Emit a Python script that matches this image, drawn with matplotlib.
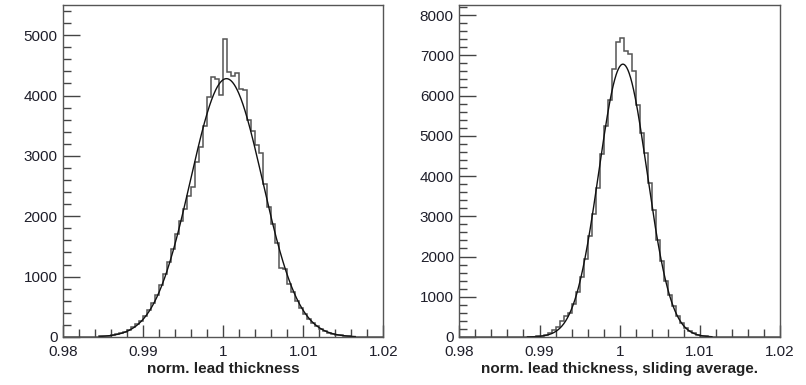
import numpy as np
import matplotlib
matplotlib.use("Agg")
import matplotlib.pyplot as plt
from matplotlib.ticker import MultipleLocator

# binning: 80 bins of 0.0005 from 0.98 to 1.02
bin_lo = 0.98
bin_width = 0.0005
n_bins = 80

counts_left = [
    0, 0, 0, 0, 0, 0, 0, 0, 5, 10,
    14, 20, 30, 45, 62, 85, 118, 160, 210, 270,
    350, 440, 560, 700, 860, 1040, 1240, 1450, 1700, 1920,
    2120, 2330, 2480, 2900, 3150, 3500, 3980, 4300, 4270, 4010,
    4940, 4390, 4330, 4370, 4110, 4090, 3590, 3420, 3180, 3040,
    2530, 2150, 1880, 1560, 1150, 1120, 880, 740, 600, 480,
    385, 300, 235, 175, 130, 95, 70, 50, 35, 25,
    17, 12, 8, 5, 3, 0, 0, 0, 0, 0,
]

counts_right = [
    0, 0, 0, 0, 0, 0, 0, 0, 0, 0,
    0, 0, 0, 0, 0, 0, 3, 5, 10, 18,
    30, 55, 110, 180, 260, 390, 520, 600, 820, 1120,
    1480, 1950, 2500, 3050, 3700, 4550, 5250, 5900, 6650, 7330,
    7420, 7100, 7040, 6600, 5760, 5070, 4560, 3820, 3150, 2420,
    1880, 1400, 1050, 760, 520, 350, 230, 150, 90, 55,
    30, 18, 10, 5, 2, 0, 0, 0, 0, 0,
    0, 0, 0, 0, 0, 0, 0, 0, 0, 0,
]

# gaussian fit parameters (amplitude, mean, sigma) and fit range
fit_left = (4280, 1.0004, 0.0045)
fit_left_range = (0.9845, 1.0165)
fit_right = (6780, 1.0004, 0.0030)
fit_right_range = (0.9885, 1.0115)

xticks = [0.98, 0.99, 1.0, 1.01, 1.02]
xtick_labels = ["0.98", "0.99", "1", "1.01", "1.02"]
xlabels = ["norm. lead thickness", "norm. lead thickness, sliding average."]
ymax = [5500, 8250]

plt.rcParams["font.family"] = ["Liberation Sans", "DejaVu Sans"]

fig = plt.figure(figsize=(8.06, 3.85), dpi=100)
ax1 = fig.add_axes([0.0785, 0.1247, 0.397, 0.8623])
ax2 = fig.add_axes([0.5699, 0.1247, 0.3979, 0.8623])

edges = bin_lo + bin_width * np.arange(n_bins + 1)


def gauss(x, amp, mu, sig):
    return amp * np.exp(-0.5 * ((x - mu) / sig) ** 2)


for ax, counts, fit, frange, xl, ym in [
    (ax1, counts_left, fit_left, fit_left_range, xlabels[0], ymax[0]),
    (ax2, counts_right, fit_right, fit_right_range, xlabels[1], ymax[1]),
]:
    ax.stairs(counts, edges, color="#555555", linewidth=1.1)
    xf = np.linspace(frange[0], frange[1], 500)
    ax.plot(xf, gauss(xf, *fit), color="#111111", linewidth=1.0)

    ax.set_xlim(0.98, 1.02)
    ax.set_ylim(0, ym)
    ax.set_xticks(xticks)
    ax.set_xticklabels(xtick_labels)
    ax.xaxis.set_minor_locator(MultipleLocator(0.002))
    ax.yaxis.set_major_locator(MultipleLocator(1000))
    ax.yaxis.set_minor_locator(MultipleLocator(200))
    ax.tick_params(which="both", direction="in", top=False, right=False,
                   color="#444444", labelcolor="#1e1e2a", labelsize=11)
    ax.tick_params(which="major", length=12, width=1.0, pad=4)
    ax.tick_params(which="minor", length=6, width=1.0)
    ax.tick_params(axis="x", which="major", length=9, pad=6)
    for s in ax.spines.values():
        s.set_color("#555555")
        s.set_linewidth(1.0)
    ax.set_xlabel(xl, fontsize=11, fontweight="bold", color="#222222", labelpad=2)

fig.savefig("out.png", dpi=100)
